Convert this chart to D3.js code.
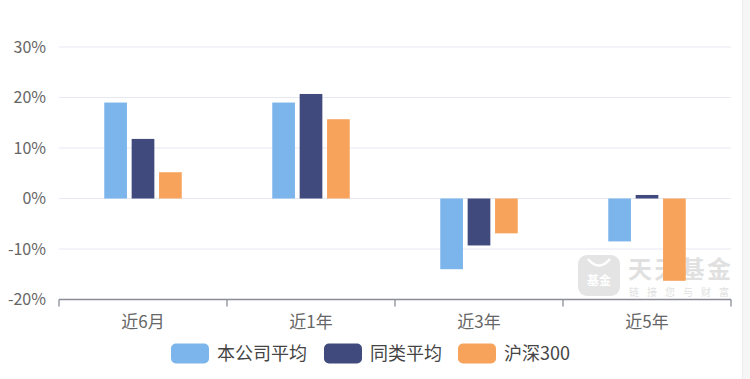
<!DOCTYPE html>
<html><head><meta charset="utf-8">
<script src="https://cdn.jsdelivr.net/npm/d3@7"></script>
<style>body{margin:0;background:#fff;}svg{display:block;font-family:"Noto Sans CJK SC","Noto Sans",sans-serif;}</style>
</head><body>
<svg id="c" width="750" height="379"></svg>
<script>
const categories = ["近6月","近1年","近3年","近5年"];
const seriesNames = ["本公司平均","同类平均","沪深300"];
const companyAvg = [19.0, 19.0, -14.0, -8.5];
const peerAvg = [11.8, 20.7, -9.3, 0.7];
const hs300 = [5.2, 15.7, -6.9, -16.3];
const yTicks = [-20,-10,0,10,20,30];
const colors = ["#7cb5ec","#404a7c","#f7a35c"];

(function(){
const series = [companyAvg, peerAvg, hs300];
const svg = d3.select("#c");
const mLeft = 59, mRight = 731, mTop = 47, mBottom = 299.5;

// right gray strip
svg.append("rect").attr("x",742).attr("y",0).attr("width",8).attr("height",379).attr("fill","#f6f6f6");
svg.append("line").attr("x1",742.5).attr("x2",742.5).attr("y1",0).attr("y2",379).attr("stroke","#ececec");

const x = d3.scaleBand().domain(categories).range([mLeft,mRight]);
const y = d3.scaleLinear().domain([-20,30]).range([mBottom,mTop]);

// grid
svg.append("g").selectAll("line").data(yTicks.filter(t=>t>-20)).join("line")
  .attr("x1",mLeft).attr("x2",mRight).attr("y1",d=>y(d)).attr("y2",d=>y(d))
  .attr("stroke","#e6e9f2").attr("stroke-width",1);

// y labels
svg.append("g").selectAll("text").data(yTicks).join("text")
  .attr("x",46).attr("y",d=>y(d)).attr("dy","0.35em").attr("text-anchor","end")
  .attr("fill","#666").attr("font-size",16).text(d=>d+"%");

// watermark
const wm = svg.append("g").attr("opacity",0.55);
wm.append("rect").attr("x",578).attr("y",255).attr("width",42).attr("height",41).attr("rx",9).attr("fill","#cfcfcf");
wm.append("text").attr("x",599).attr("y",285).attr("text-anchor","middle").attr("font-size",12).attr("fill","#fff").attr("font-weight","bold").text("基金");
wm.append("path").attr("d","M588,259 Q599,272 610,259").attr("fill","none").attr("stroke","#fff").attr("stroke-width",2.5);
wm.append("text").attr("x",628).attr("y",278).attr("font-size",24).attr("fill","#c8c8c8").attr("font-weight","bold").attr("textLength",103).text("天天基金");
wm.append("text").attr("x",629).attr("y",296).attr("font-size",10).attr("fill","#c8c8c8").attr("textLength",100).text("链接您与财富");

// bars
const barW = 22.7, gap = 4.7;
const groupW = barW*3 + gap*2;
series.forEach((vals,si)=>{
  svg.append("g").selectAll("rect").data(vals).join("rect")
    .attr("x",(d,i)=>x(categories[i]) + x.bandwidth()/2 - groupW/2 + si*(barW+gap))
    .attr("y",d=>Math.min(y(d),y(0)))
    .attr("width",barW)
    .attr("height",d=>Math.abs(y(d)-y(0)))
    .attr("fill",colors[si]);
});

// x axis
const xa = svg.append("g");
xa.append("line").attr("x1",mLeft).attr("x2",mRight).attr("y1",mBottom).attr("y2",mBottom).attr("stroke","#8a8d99").attr("stroke-width",1.3);
const tickXs = categories.map(c=>x(c)).concat([x(categories[categories.length-1])+x.bandwidth()]);
xa.selectAll("line.t").data(tickXs).join("line").attr("class","t")
  .attr("x1",d=>d).attr("x2",d=>d).attr("y1",mBottom).attr("y2",mBottom+7).attr("stroke","#8a8d99").attr("stroke-width",1.3);
xa.selectAll("text").data(categories).join("text")
  .attr("x",d=>x(d)+x.bandwidth()/2).attr("y",322).attr("dy","0.35em").attr("text-anchor","middle")
  .attr("fill","#666").attr("font-size",17).text(d=>d);

// legend
const legendX = [171, 324, 458];
const lg = svg.append("g");
seriesNames.forEach((n,i)=>{
  lg.append("rect").attr("x",legendX[i]).attr("y",343.5).attr("width",38).attr("height",20).attr("rx",5).attr("fill",colors[i]);
  lg.append("text").attr("x",legendX[i]+46).attr("y",353.5).attr("dy","0.35em").attr("font-size",18).attr("fill","#444").text(n);
});
})();
</script>
</body></html>
